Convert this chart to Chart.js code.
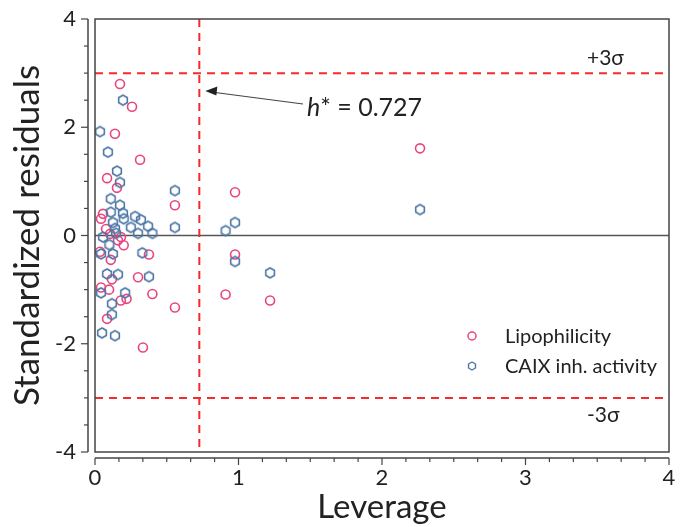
<!DOCTYPE html>
<html><head><meta charset="utf-8">
<script src="https://cdn.jsdelivr.net/npm/chart.js@4/dist/chart.umd.min.js"></script>
<style>html,body{margin:0;padding:0;background:#fff}</style>
</head><body>
<canvas id="c" width="680" height="527" style="display:block;width:680px;height:527px"></canvas>
<script>
// ---- data ----
const lipoX = [0.174,0.258,0.139,0.314,0.084,0.153,0.557,0.976,2.265,0.056,0.042,0.077,0.105,0.181,0.160,0.200,0.035,0.110,0.376,0.976,0.118,0.300,0.042,0.098,0.400,0.910,0.180,0.220,1.220,0.557,0.084,0.334];
const lipoY = [2.80,2.38,1.88,1.40,1.06,0.88,0.56,0.80,1.61,0.40,0.31,0.12,0.03,-0.03,-0.09,-0.18,-0.30,-0.45,-0.35,-0.35,-0.81,-0.77,-0.96,-1.00,-1.08,-1.09,-1.20,-1.17,-1.20,-1.33,-1.54,-2.07];
const caixX = [0.195,0.035,0.090,0.153,0.174,0.557,0.110,0.174,0.110,0.195,0.280,0.125,0.200,0.320,0.250,0.370,0.139,0.300,0.400,0.557,0.976,0.910,2.265,0.056,0.146,0.100,0.042,0.125,0.330,0.976,0.084,0.160,0.376,1.220,0.042,0.210,0.118,0.118,0.049,0.139];
const caixY = [2.50,1.92,1.54,1.19,0.98,0.83,0.68,0.56,0.43,0.41,0.35,0.24,0.31,0.29,0.15,0.17,0.13,0.04,0.04,0.15,0.24,0.09,0.48,-0.03,0.04,-0.17,-0.34,-0.34,-0.32,-0.48,-0.71,-0.72,-0.76,-0.69,-1.06,-1.06,-1.26,-1.46,-1.80,-1.85];
const seriesNames = ["Lipophilicity","CAIX inh. activity"];
const xTicks = [0,1,2,3,4];
const yTicks = [-4,-2,0,2,4];
const hStar = 0.727;
const sigmaLimits = [3,-3];
const sigmaLabels = ["+3σ","-3σ"];
const hLabel = "0.727";

// ---- styles ----
const PINK = "#e8457f", BLUE = "#4c76a6", RED = "#f52a2a", FONT = "Lato, 'Open Sans', sans-serif";

function hexCanvas(color, r, lw){
  const s = Math.ceil(2*r + lw + 2);
  const c = document.createElement('canvas'); c.width = s; c.height = s;
  const g = c.getContext('2d'); g.strokeStyle = color; g.lineWidth = lw; g.lineJoin='round';
  g.beginPath();
  for (let i=0;i<6;i++){ const a = -Math.PI/2 + i*Math.PI/3; g.lineTo(s/2 + r*Math.cos(a), s/2 + r*Math.sin(a)); }
  g.closePath(); g.stroke();
  return c;
}
const hexImg = hexCanvas(BLUE, 5, 1.6);
const hexSmall = hexCanvas(BLUE, 4, 1.4);

const pts = (xs, ys) => xs.map((x,i)=>({x, y: ys[i]}));

const decor = {
  id:'decor',
  beforeDatasetsDraw(chart){
    const {ctx, chartArea:a, scales:{x,y}} = chart;
    ctx.save();
    ctx.strokeStyle = "#555"; ctx.lineWidth = 1.5;
    ctx.beginPath(); ctx.moveTo(a.left, y.getPixelForValue(0)); ctx.lineTo(a.right, y.getPixelForValue(0)); ctx.stroke();
    ctx.strokeStyle = RED; ctx.lineWidth = 2; ctx.setLineDash([8,6]);
    sigmaLimits.forEach(v=>{ const py = y.getPixelForValue(v); ctx.beginPath(); ctx.moveTo(a.left, py); ctx.lineTo(a.right, py); ctx.stroke(); });
    const px = x.getPixelForValue(hStar);
    ctx.beginPath(); ctx.moveTo(px, a.top); ctx.lineTo(px, a.bottom); ctx.stroke();
    ctx.setLineDash([]);
    ctx.restore();
  },
  afterDraw(chart){
    const {ctx, chartArea:a, scales:{x,y}} = chart;
    ctx.save();
    ctx.strokeStyle = "#444"; ctx.lineWidth = 1.5;
    ctx.strokeRect(a.left, a.top, a.right-a.left, a.bottom-a.top);
    const ax = a.left - 7;
    ctx.beginPath(); ctx.moveTo(ax, y.getPixelForValue(4)); ctx.lineTo(ax, y.getPixelForValue(-4)); ctx.stroke();
    ctx.lineWidth = 1.2;
    for (let v=-4; v<=4.001; v+=0.5){
      const py = y.getPixelForValue(v); const major = Math.abs(v % 2) < 1e-6;
      ctx.beginPath(); ctx.moveTo(ax, py); ctx.lineTo(ax - (major?7:4), py); ctx.stroke();
    }
    const ay = a.bottom + 6;
    ctx.lineWidth = 1.5;
    ctx.beginPath(); ctx.moveTo(x.getPixelForValue(0), ay); ctx.lineTo(x.getPixelForValue(4), ay); ctx.stroke();
    ctx.lineWidth = 1.2;
    for (let k=0;k<=24;k++){
      const v = k/6, px = x.getPixelForValue(v), major = k%6===0;
      ctx.beginPath(); ctx.moveTo(px, ay); ctx.lineTo(px, ay + (major?7:4)); ctx.stroke();
    }
    ctx.fillStyle = "#222"; ctx.font = "21px " + FONT; ctx.textAlign = "left"; ctx.textBaseline = "middle";
    ctx.fillText(sigmaLabels[0], 587, y.getPixelForValue(sigmaLimits[0]) - 15);
    ctx.fillText(sigmaLabels[1], 587, y.getPixelForValue(sigmaLimits[1]) + 17);
    const hx = x.getPixelForValue(hStar);
    ctx.strokeStyle = "#444"; ctx.lineWidth = 1.2;
    ctx.beginPath(); ctx.moveTo(303, 104); ctx.lineTo(hx + 12, 92); ctx.stroke();
    ctx.fillStyle = "#222";
    ctx.beginPath(); ctx.moveTo(hx + 6, 91); ctx.lineTo(hx + 18, 86.5); ctx.lineTo(hx + 17, 95.5); ctx.closePath(); ctx.fill();
    ctx.font = "italic 25px " + FONT; ctx.fillText("h", 307, 108);
    const hw = ctx.measureText("h").width;
    ctx.font = "25px " + FONT; ctx.fillText("* = " + hLabel, 307 + hw, 108);
    ctx.font = "20px " + FONT; ctx.fillStyle = "#222";
    ctx.strokeStyle = PINK; ctx.lineWidth = 1.5;
    ctx.beginPath(); ctx.arc(472, 336, 4, 0, Math.PI*2); ctx.stroke();
    ctx.fillText(seriesNames[0], 505, 337);
    ctx.drawImage(hexSmall, 472 - hexSmall.width/2, 366 - hexSmall.height/2);
    ctx.fillText(seriesNames[1], 505, 367);
    ctx.restore();
  }
};

new Chart(document.getElementById('c'), {
  type: 'scatter',
  data: { datasets: [
    { label: seriesNames[1], data: pts(caixX, caixY), pointStyle: hexImg, pointRadius: 5, pointHoverRadius: 5 },
    { label: seriesNames[0], data: pts(lipoX, lipoY), pointStyle: 'circle', pointRadius: 4.5, borderColor: PINK, backgroundColor: 'rgba(0,0,0,0)', borderWidth: 1.6, pointHoverRadius: 4.5 }
  ]},
  options: {
    responsive: false, animation: false, devicePixelRatio: 1,
    layout: { padding: { top: 19, right: 11, left: 0, bottom: 0 } },
    plugins: { legend: { display: false }, tooltip: { enabled: false } },
    scales: {
      x: { type: 'linear', min: 0, max: 4,
        afterFit: s => { s.height = 75; s.paddingLeft = 0; s.paddingRight = 0; },
        afterBuildTicks: s => { s.ticks = xTicks.map(v=>({value:v})); },
        grid: { display: false, drawTicks: false }, border: { display: false },
        ticks: { padding: 13, color: "#222", font: { family: FONT, size: 22 }, maxRotation: 0 },
        title: { display: true, text: "Leverage", color: "#222", font: { family: FONT, size: 33 }, padding: { top: 0, bottom: 0 } } },
      y: { type: 'linear', min: -4, max: 4,
        afterFit: s => { s.width = 95; s.paddingTop = 0; s.paddingBottom = 0; },
        afterBuildTicks: s => { s.ticks = yTicks.map(v=>({value:v})); },
        grid: { display: false, drawTicks: false }, border: { display: false },
        ticks: { padding: 19, color: "#222", font: { family: FONT, size: 22 } },
        title: { display: true, text: "Standardized residuals", color: "#222", font: { family: FONT, size: 35 }, padding: { top: 7, bottom: 0 } } }
    }
  },
  plugins: [decor]
});
</script>
</body></html>
